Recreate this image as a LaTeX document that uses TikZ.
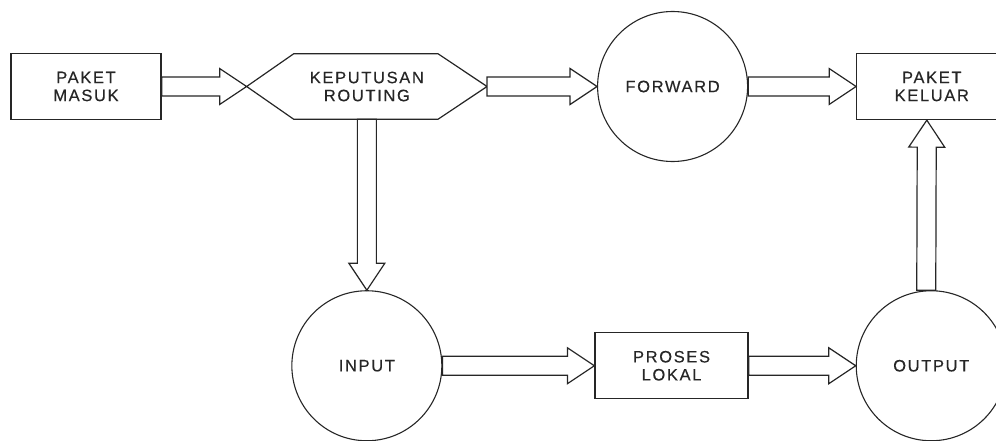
\documentclass[tikz,border=0pt]{standalone}
\usepackage{fontspec}
\setmainfont{Liberation Sans}[LetterSpace=10, FakeBold=0.4]
\usetikzlibrary{positioning, calc}
\tikzset{
    paketbox/.style={rectangle, draw=black!85, line width=1.3pt, minimum width=150pt, minimum height=66pt, align=center},
    hexbox/.style={rectangle, minimum width=240pt, minimum height=65pt, align=center},
    hexline/.style={draw=black!85, line width=1.2pt},
    proccircle/.style={circle, draw=black!85, line width=1.1pt, minimum size=150pt, inner sep=0pt, align=center},
    blockarrow/.style={draw=black!85, line width=1.2pt, fill=white, to path={
        ($(\tikztostart)!9.5pt!90:(\tikztotarget)$)
        -- ($(\tikztotarget)!27pt!(\tikztostart)!9.5pt!90:(\tikztotarget)$)
        -- ($(\tikztotarget)!27pt!(\tikztostart)!18pt!90:(\tikztotarget)$)
        -- (\tikztotarget)
        -- ($(\tikztotarget)!27pt!(\tikztostart)!18pt!-90:(\tikztotarget)$)
        -- ($(\tikztotarget)!27pt!(\tikztostart)!9.5pt!-90:(\tikztotarget)$)
        -- ($(\tikztostart)!9.5pt!-90:(\tikztotarget)$) -- cycle}},
}

\begin{document}
\begin{tikzpicture}[
        x=1pt, y=-1pt,
        font=\fontsize{16.5}{18}\selectfont, text=black!85
    ]
        \path[use as bounding box, clip] (0,0) rectangle (996,441);

        % Nodes
        \node[paketbox] (masuk) at (86,86.5) {PAKET\\MASUK};
        \node[hexbox, right=85pt of masuk] (keputusan) {KEPUTUSAN\\ROUTING};
        \node[proccircle, right=110pt of keputusan] (forward) {FORWARD};
        \node[paketbox, right=108pt of forward] (keluar) {PAKET\\KELUAR};

        \node[proccircle, below=171pt of keputusan] (input) {INPUT};
        \node[paketbox, minimum width=153pt, right=152pt of input] (proses) {PROSES\\LOKAL};
        \node[proccircle, right=107pt of proses] (output) {OUTPUT};

        % Hexagon outline
        \draw[hexline] (keputusan.west) -- ([xshift=47pt]keputusan.north west)
            -- ([xshift=-49pt]keputusan.north east) -- (keputusan.east)
            -- ([xshift=-49pt]keputusan.south east) -- ([xshift=47pt]keputusan.south west) -- cycle;

        % Connections
        \draw[blockarrow] (masuk.east) to (keputusan.west);
        \draw[blockarrow] (keputusan.east) to (forward.west);
        \draw[blockarrow] (forward.east) to (keluar.west);

        \draw[blockarrow] (keputusan.south) to (input.north);

        \draw[blockarrow] (input.east) to (proses.west);
        \draw[blockarrow] (proses.east) to (output.west);
        \draw[blockarrow] ([xshift=-5pt]output.north) to ([xshift=-5pt]keluar.south);
    \end{tikzpicture}
\end{document}
